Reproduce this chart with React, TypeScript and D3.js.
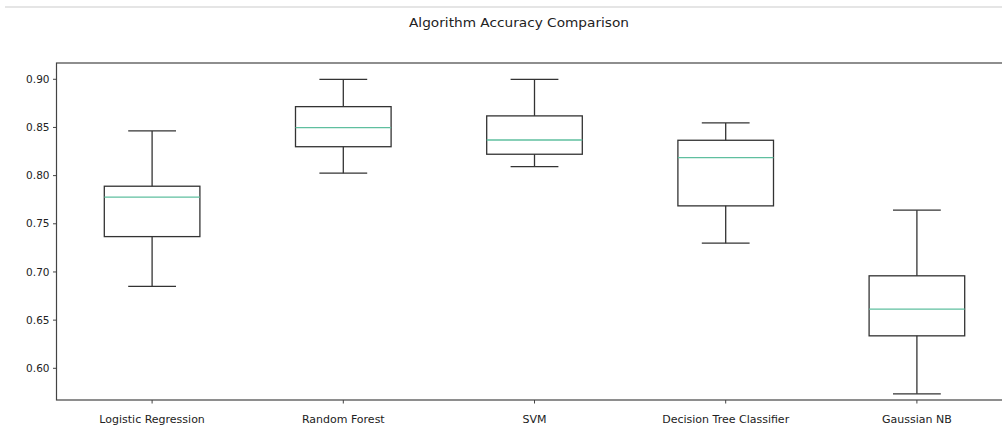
import React from 'react'
import * as d3 from 'd3'

// values
const categories = ['Logistic Regression', 'Random Forest', 'SVM', 'Decision Tree Classifier', 'Gaussian NB']
const whiskerLow = [0.685, 0.8025, 0.8093, 0.7299, 0.5735]
const q1 = [0.7367, 0.83, 0.8222, 0.7686, 0.6337]
const medians = [0.7776, 0.8498, 0.837, 0.8187, 0.6614]
const q3 = [0.789, 0.8716, 0.862, 0.8367, 0.696]
const whiskerHigh = [0.8464, 0.9, 0.9, 0.8547, 0.7641]
const yTicks = [0.6, 0.65, 0.7, 0.75, 0.8, 0.85, 0.9]

const W = 1002
const H = 428
const plot = { left: 56.5, right: 1012.5, top: 63, bottom: 400 }
const font = 'DejaVu Sans, sans-serif'
const lineColor = '#333'
const medianColor = '#5fbf9f'

export default function App() {
  const x = d3.scaleLinear().domain([0.5, 5.5]).range([plot.left, plot.right])
  const y = d3.scaleLinear().domain([0.5671, 0.9169]).range([plot.bottom, plot.top])
  const step = x(2) - x(1)
  const boxW = step * 0.5
  const capW = boxW * 0.5

  return (
    <svg
      width={W}
      height={H}
      style={{ position: 'fixed', left: 0, top: 0, background: '#fff' }}
      fontFamily={font}
    >
      <line x1={5} x2={W} y1={7} y2={7} stroke="#ddd" strokeWidth={1.5} />
      <text x={519} y={26.5} textAnchor="middle" fontSize={12} fill="#222" textLength={220} lengthAdjust="spacingAndGlyphs">
        Algorithm Accuracy Comparison
      </text>

      {categories.map((c, i) => {
        const cx = x(i + 1)
        return (
          <g key={c} stroke={lineColor} strokeWidth={1.3} fill="none">
            <line x1={cx} x2={cx} y1={y(q3[i])} y2={y(whiskerHigh[i])} />
            <line x1={cx} x2={cx} y1={y(q1[i])} y2={y(whiskerLow[i])} />
            <line x1={cx - capW / 2} x2={cx + capW / 2} y1={y(whiskerHigh[i])} y2={y(whiskerHigh[i])} />
            <line x1={cx - capW / 2} x2={cx + capW / 2} y1={y(whiskerLow[i])} y2={y(whiskerLow[i])} />
            <rect x={cx - boxW / 2} y={y(q3[i])} width={boxW} height={y(q1[i]) - y(q3[i])} />
            <line
              x1={cx - boxW / 2}
              x2={cx + boxW / 2}
              y1={y(medians[i])}
              y2={y(medians[i])}
              stroke={medianColor}
            />
          </g>
        )
      })}

      {/* frame */}
      <rect
        x={plot.left}
        y={plot.top}
        width={plot.right - plot.left}
        height={plot.bottom - plot.top}
        fill="none"
        stroke="#444"
        strokeWidth={1.2}
      />

      {yTicks.map((t) => (
        <g key={t}>
          <line x1={plot.left - 3.5} x2={plot.left} y1={y(t)} y2={y(t)} stroke="#444" />
          <text x={plot.left - 7} y={y(t)} dy="0.35em" textAnchor="end" fontSize={10.5} fill="#222">
            {d3.format('.2f')(t)}
          </text>
        </g>
      ))}

      {categories.map((c, i) => (
        <g key={c}>
          <line x1={x(i + 1)} x2={x(i + 1)} y1={plot.bottom} y2={plot.bottom + 3.5} stroke="#444" />
          <text x={x(i + 1)} y={plot.bottom + 23} textAnchor="middle" fontSize={11} fill="#222">
            {c}
          </text>
        </g>
      ))}
    </svg>
  )
}
